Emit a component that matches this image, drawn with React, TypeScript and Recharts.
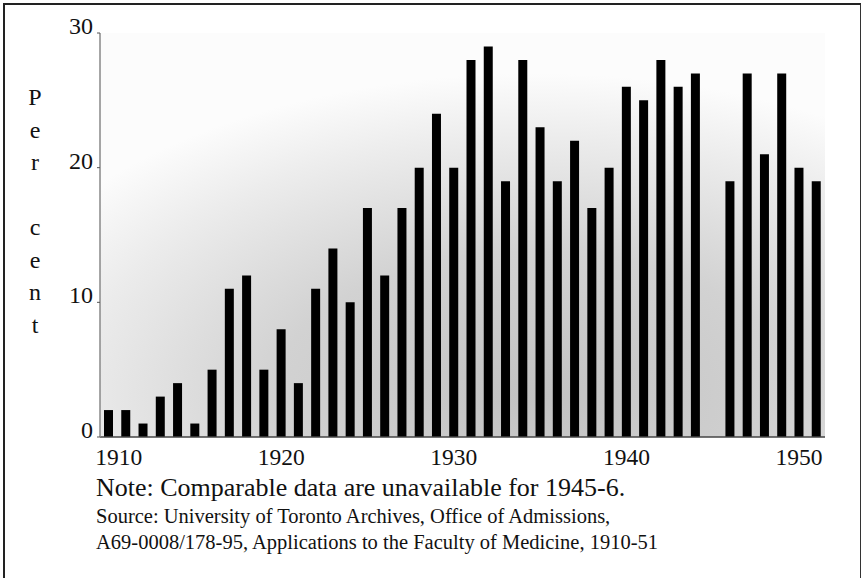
import { BarChart, Bar, XAxis, YAxis, CartesianGrid } from 'recharts'

const YEARS = [
  '1910', '1911', '1912', '1913', '1914', '1915', '1916', '1917', '1918', '1919',
  '1920', '1921', '1922', '1923', '1924', '1925', '1926', '1927', '1928', '1929',
  '1930', '1931', '1932', '1933', '1934', '1935', '1936', '1937', '1938', '1939',
  '1940', '1941', '1942', '1943', '1944', '1945', '1946', '1947', '1948', '1949',
  '1950', '1951',
]

// per cent of applicants; 1945 has no comparable data
const PER_CENT: (number | null)[] = [
  2, 2, 1, 3, 4, 1, 5, 11, 12, 5,
  8, 4, 11, 14, 10, 17, 12, 17, 20, 24,
  20, 28, 29, 19, 28, 23, 19, 22, 17, 20,
  26, 25, 28, 26, 27, null, 19, 27, 21, 27,
  20, 19,
]

const Y_TICKS = [0, 10, 20, 30]
const AXIS_LETTERS = ['P', 'e', 'r', '', 'c', 'e', 'n', 't']
const NOTE = 'Note: Comparable data are unavailable for 1945-6.'
const SOURCE_LINES = [
  'Source: University of Toronto Archives, Office of Admissions,',
  'A69-0008/178-95, Applications to the Faculty of Medicine, 1910-51',
]

const FONT = 'Liberation Serif'

const data = YEARS.map((year, i) => ({ year, value: PER_CENT[i] }))

function YearTick({ x, y, payload, index }: any) {
  // the first label sits a little right of its bar in the original
  const dx = index === 0 ? 10 : 0
  return (
    <text x={x + dx} y={y + 28} textAnchor="middle" style={{ fontFamily: FONT }} fontSize={23.5} fill="#111">
      {payload.value}
    </text>
  )
}

function PercentTick({ x, y, payload }: any) {
  return (
    <text x={x - 4} y={y + 1} textAnchor="end" style={{ fontFamily: FONT }} fontSize={24} fill="#111">
      {payload.value}
    </text>
  )
}

export default function App() {
  return (
    <div
      style={{
        position: 'absolute', left: 0, top: 0, width: 861, height: 578,
        background: '#fff', fontFamily: FONT, color: '#111', overflow: 'hidden',
      }}
    >
      <div
        style={{
          position: 'absolute', left: 3, top: 3, width: 855, height: 580,
          borderLeft: '2px solid #222', borderTop: '2px solid #222', borderRight: '1.5px solid #333',
        }}
      />
      <BarChart
        width={861}
        height={578}
        data={data}
        margin={{ top: 33, right: 36, bottom: 111, left: 40 }}
        barSize={9}
      >
        <defs>
          <radialGradient id="stipple" cx="0.6" cy="0.9" r="0.8">
            <stop offset="0%" stopColor="#c2c2c2" />
            <stop offset="45%" stopColor="#d2d2d2" />
            <stop offset="80%" stopColor="#ececec" />
            <stop offset="100%" stopColor="#fcfcfc" />
          </radialGradient>
        </defs>
        <CartesianGrid horizontal={false} vertical={false} fill="url(#stipple)" />
        <XAxis
          dataKey="year"
          interval={9}
          height={30}
          tickSize={0}
          tickMargin={0}
          tickLine={false}
          axisLine={{ stroke: '#444', strokeWidth: 1.5 }}
          tick={<YearTick />}
        />
        <YAxis
          width={60}
          domain={[0, 30]}
          ticks={Y_TICKS}
          tickSize={3}
          tickMargin={0}
          tickLine={{ stroke: '#555' }}
          axisLine={{ stroke: '#888', strokeWidth: 1.5 }}
          tick={<PercentTick />}
        />
        <Bar dataKey="value" fill="#000" isAnimationActive={false} />
      </BarChart>
      <div
        style={{
          position: 'absolute', left: 20, top: 81, width: 30,
          fontSize: 24, lineHeight: '32.5px', textAlign: 'center',
        }}
      >
        {AXIS_LETTERS.map((ch, i) => (
          <div key={i} style={{ height: 32.5 }}>{ch}</div>
        ))}
      </div>
      <div style={{ position: 'absolute', left: 96, top: 475, fontSize: 26, lineHeight: '26px', whiteSpace: 'nowrap' }}>
        {NOTE}
      </div>
      <div style={{ position: 'absolute', left: 96, top: 503, fontSize: 20.5, lineHeight: '26px', whiteSpace: 'nowrap' }}>
        {SOURCE_LINES.map((line, i) => (
          <div key={i}>{line}</div>
        ))}
      </div>
    </div>
  )
}
